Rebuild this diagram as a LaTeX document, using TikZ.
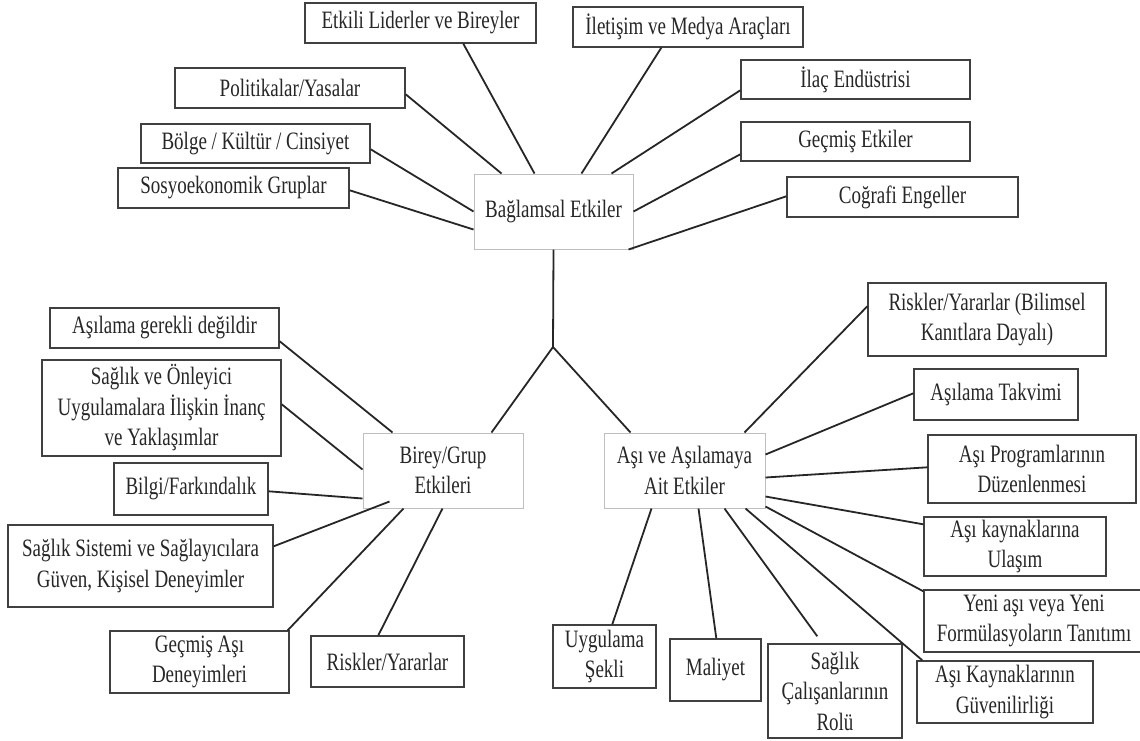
\documentclass[tikz,border=0pt]{standalone}
\usepackage{fontspec}
\setmainfont{Liberation Serif}[FakeStretch=0.76]
\usetikzlibrary{calc}

\begin{document}
\begin{tikzpicture}[x=1pt,y=-1pt]
\useasboundingbox (0,0) rectangle (1140,740);
\begin{scope}[every edge/.style={draw=black!85, line width=1.8pt},
              box/.style={draw=black!75, line width=1.4pt, inner sep=0pt, align=center,
                          font=\fontsize{25}{30.5}\selectfont, text=black!85},
              hub/.style={box, draw=black!25, line width=1pt}]
    % context factors
    \node[hub, minimum width=159pt, minimum height=75pt] (baglam) at (553.5,211.5) {Bağlamsal Etkiler};
    \node[box, minimum width=231pt, minimum height=40pt] (etkili) at (420.5,23) {Etkili Liderler ve Bireyler};
    \node[box, minimum width=230pt, minimum height=40pt] (iletisim) at (688,27) {İletişim ve Medya Araçları};
    \node[box, minimum width=230pt, minimum height=40pt] (politika) at (290,88) {Politikalar/Yasalar};
    \node[box, minimum width=229pt, minimum height=39pt] (ilac) at (855.5,79.5) {İlaç Endüstrisi};
    \node[box, minimum width=229pt, minimum height=39pt] (bolge) at (255.5,143.5) {Bölge / Kültür / Cinsiyet};
    \node[box, minimum width=229pt, minimum height=39pt] (gecmis) at (855.5,141.5) {Geçmiş Etkiler};
    \node[box, minimum width=231pt, minimum height=40pt] (sosyo) at (233.5,188) {Sosyoekonomik Gruplar};
    \node[box, minimum width=231pt, minimum height=40pt] (cografi) at (902.5,197) {Coğrafi Engeller};
    \coordinate (fork) at (553,347);
    % individual / group factors
    \node[hub, minimum width=160pt, minimum height=75pt] (birey) at (443,470.5) {Birey/Grup\\Etkileri};
    \node[box, minimum width=229pt, minimum height=40pt] (gerekli) at (164.5,328) {Aşılama gerekli değildir};
    \node[box, minimum width=239pt, minimum height=96pt] (inanc) at (161.5,408) {Sağlık ve Önleyici\\Uygulamalara İlişkin İnanç\\ve Yaklaşımlar};
    \node[box, minimum width=154pt, minimum height=52pt] (bilgi) at (191,489) {Bilgi/Farkındalık};
    \node[box, minimum width=265pt, minimum height=82pt] (sistem) at (140.5,566) {Sağlık Sistemi ve Sağlayıcılara\\Güven, Kişisel Deneyimler};
    \node[box, minimum width=179pt, minimum height=62pt] (gecmisasi) at (199.5,662) {Geçmiş Aşı\\Deneyimleri};
    \node[box, minimum width=153pt, minimum height=51pt] (riskler) at (387.5,661.5) {Riskler/Yararlar};
    % vaccine factors
    \node[hub, minimum width=161pt, minimum height=75pt] (asi) at (684.5,470.5) {Aşı ve Aşılamaya\\Ait Etkiler};
    \node[box, minimum width=238pt, minimum height=73pt] (bilimsel) at (987,319.5) {Riskler/Yararlar (Bilimsel\\Kanıtlara Dayalı)};
    \node[box, minimum width=164pt, minimum height=51pt] (takvim) at (996,394.5) {Aşılama Takvimi};
    \node[box, minimum width=208pt, minimum height=68pt] (program) at (1032,469) {Aşı Programlarının\\Düzenlenmesi};
    \node[box, minimum width=182pt, minimum height=59pt] (ulasim) at (1015,546.5) {Aşı kaynaklarına\\Ulaşım};
    \node[box, minimum width=220pt, minimum height=62pt] (yeni) at (1034,621) {Yeni aşı veya Yeni\\Formülasyoların Tanıtımı};
    \node[box, minimum width=176pt, minimum height=62pt] (guven) at (1005,692) {Aşı Kaynaklarının\\Güvenilirliği};
    \node[box, minimum width=103pt, minimum height=63pt] (uygulama) at (604.5,656.5) {Uygulama\\Şekli};
    \node[box, minimum width=91pt, minimum height=62pt] (maliyet) at (715.5,670) {Maliyet};
    \node[box, minimum width=134pt, minimum height=94pt] (rol) at (835,691) {Sağlık\\Çalışanlarının\\Rolü};

    \path ($(etkili.south west)+(159,0)$) edge ($(baglam.north west)+(61,0)$);
    \path ($(iletisim.south west)+(89,0)$) edge ($(baglam.north west)+(108,0)$);
    \path ($(politika.north east)+(0,27)$) edge ($(baglam.north west)+(28,0)$);
    \path ($(ilac.north west)+(0,31)$) edge ($(baglam.north west)+(138,0)$);
    \path ($(bolge.north east)+(0,26)$) edge ($(baglam.north west)+(0,38)$);
    \path ($(gecmis.north west)+(0,33)$) edge ($(baglam.north east)+(0,38)$);
    \path ($(sosyo.north east)+(0,23)$) edge ($(baglam.north west)+(0,56)$);
    \path ($(cografi.north west)+(0,20)$) edge ($(baglam.south east)+(-5,0)$);

    \path (baglam.south) edge (fork);
    \path (fork) edge ($(birey.north west)+(129,0)$);
    \path (fork) edge ($(asi.north west)+(27,0)$);

    \path ($(gerekli.north east)+(0,34)$) edge ($(birey.north west)+(30,0)$);
    \path ($(inanc.north east)+(0,45)$) edge ($(birey.north west)+(0,37)$);
    \path ($(bilgi.north east)+(0,29)$) edge ($(birey.north west)+(0,66)$);
    \path ($(sistem.north east)+(0,22)$) edge ($(birey.south west)+(27,-7)$);
    \path ($(gecmisasi.north east)+(-2,0)$) edge ($(birey.south west)+(41,0)$);
    \path ($(riskler.north west)+(68,0)$) edge ($(birey.south west)+(80,0)$);

    \path ($(asi.north west)+(141,0)$) edge ($(bilimsel.north west)+(0,24)$);
    \path ($(asi.north east)+(0,22)$) edge ($(takvim.north west)+(0,25)$);
    \path ($(asi.north east)+(0,45)$) edge ($(program.north west)+(0,33)$);
    \path ($(asi.north east)+(0,64)$) edge ($(ulasim.north west)+(0,8)$);
    \path ($(asi.south east)+(0,-2)$) edge ($(yeni.north west)+(0,2)$);
    \path ($(asi.south east)+(-20,0)$) edge ($(guven.north west)+(6,0)$);
    \path ($(asi.south east)+(-41,0)$) edge ($(rol.north west)+(50,-7)$);
    \path ($(asi.south west)+(95,0)$) edge ($(maliyet.north west)+(47,0)$);
    \path ($(asi.south west)+(48,0)$) edge ($(uygulama.north west)+(60,0)$);
\end{scope}
\end{tikzpicture}
\end{document}
